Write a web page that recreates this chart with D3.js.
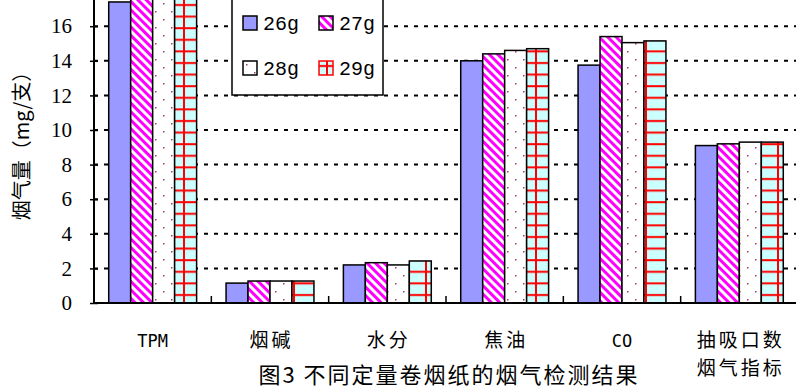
<!DOCTYPE html>
<html>
<head>
<meta charset="utf-8">
<script src="https://cdn.jsdelivr.net/npm/d3@7"></script>
<style>
  body { margin: 0; background: #fff; }
  svg { display: block; font-family: "Liberation Sans", Arial, sans-serif; }
  .cjk { font-family: "Noto Sans CJK SC", sans-serif; }
</style>
</head>
<body>
<svg id="chart" width="796" height="391"></svg>
<script>
// data (TPM bars run past the top of the image)
const categories = ['TPM', '烟碱', '水分', '焦油', 'CO', '抽吸口数 烟气指标'];
const seriesNames = ['26g', '27g', '28g', '29g'];
const s26 = [17.4, 1.15, 2.2, 14.0, 13.75, 9.1];
const s27 = [18.6, 1.27, 2.33, 14.4, 15.4, 9.2];
const s28 = [18.6, 1.27, 2.2, 14.6, 15.05, 9.3];
const s29 = [18.6, 1.27, 2.43, 14.7, 15.15, 9.3];
const yTicks = [0, 2, 4, 6, 8, 10, 12, 14, 16];
const title = '图3 不同定量卷烟纸的烟气检测结果';
const yTitle = '烟气量（mg/支）';

const series = [s26, s27, s28, s29];

const svg = d3.select('#chart');
const defs = svg.append('defs');

// fills
let p = defs.append('pattern').attr('id', 'p27')
    .attr('patternUnits', 'userSpaceOnUse').attr('width', 6).attr('height', 6)
    .attr('patternTransform', 'rotate(-45)');
p.append('rect').attr('width', 6).attr('height', 6).attr('fill', '#fff');
p.append('rect').attr('width', 3).attr('height', 6).attr('fill', '#ff00ff');

p = defs.append('pattern').attr('id', 'p28')
    .attr('patternUnits', 'userSpaceOnUse').attr('width', 16).attr('height', 16);
p.append('rect').attr('width', 16).attr('height', 16).attr('fill', '#fff');
p.append('rect').attr('x', 3).attr('y', 3).attr('width', 1.5).attr('height', 1.5).attr('fill', '#a0406a');
p.append('rect').attr('x', 11).attr('y', 11).attr('width', 1.5).attr('height', 1.5).attr('fill', '#a0406a');

p = defs.append('pattern').attr('id', 'p29')
    .attr('patternUnits', 'userSpaceOnUse').attr('width', 22).attr('height', 11.6)
    .attr('x', 173);
p.append('rect').attr('width', 22).attr('height', 11.6).attr('fill', '#ccffff');
p.append('rect').attr('x', 0).attr('y', 4).attr('width', 22).attr('height', 2).attr('fill', '#ff0000');
p.append('rect').attr('x', 10).attr('y', 0).attr('width', 2).attr('height', 11.6).attr('fill', '#ff0000');

const fills = ['#9999ff', 'url(#p27)', 'url(#p28)', 'url(#p29)'];

const left = 94, right = 798, base = 303;

const x = d3.scaleBand().domain(categories).range([left, right]);
const xs = d3.scaleBand().domain(seriesNames).range([0, x.bandwidth()])
    .paddingInner(0).paddingOuter(0.67);
const y = d3.scaleLinear().domain([0, 17.5]).range([base, base - 17.3 * 17.5]);

// grid
svg.append('g').selectAll('line')
    .data(yTicks.filter(d => d > 0))
    .enter().append('line')
    .attr('x1', left).attr('x2', right)
    .attr('y1', d => y(d)).attr('y2', d => y(d))
    .attr('stroke', '#000').attr('stroke-width', 2)
    .attr('stroke-dasharray', '4,6');

// bars
const groups = svg.append('g').selectAll('g')
    .data(seriesNames)
    .enter().append('g');
groups.selectAll('rect')
    .data((s, i) => series[i].map((v, j) => ({ s: s, i: i, cat: categories[j], v: v })))
    .enter().append('rect')
    .attr('x', d => x(d.cat) + xs(d.s))
    .attr('y', d => y(d.v))
    .attr('width', xs.bandwidth())
    .attr('height', d => y(0) - y(d.v))
    .attr('fill', d => fills[d.i])
    .attr('stroke', '#000').attr('stroke-width', 1.5);

// y axis
const yAxis = svg.append('g')
    .attr('transform', `translate(${left},0)`)
    .call(d3.axisLeft(y).tickValues(yTicks).tickSize(4).tickPadding(18));
yAxis.attr('font-family', null).attr('font-size', null);
yAxis.select('.domain').attr('stroke-width', 2).attr('d', `M0,${base}V0`);
yAxis.selectAll('.tick line').attr('x2', -4).attr('x1', 4).attr('stroke-width', 1.5);
yAxis.selectAll('.tick text')
    .style('font-family', '"Liberation Serif", serif').style('font-size', '21px')
    .attr('fill', '#000');

// x axis
svg.append('line')
    .attr('x1', left).attr('x2', right).attr('y1', base).attr('y2', base)
    .attr('stroke', '#000').attr('stroke-width', 2);
svg.append('g').selectAll('line')
    .data(categories.slice(1))
    .enter().append('line')
    .attr('x1', d => x(d)).attr('x2', d => x(d))
    .attr('y1', base).attr('y2', base - 7)
    .attr('stroke', '#000').attr('stroke-width', 1.5);

const latin = d => /^[A-Z]+$/.test(d);
const xl = svg.append('g').selectAll('text')
    .data(categories)
    .enter().append('text')
    .attr('class', d => latin(d) ? null : 'cjk')
    .attr('font-family', d => latin(d) ? '"DejaVu Sans Mono", monospace' : null)
    .attr('letter-spacing', d => latin(d) ? null : 3)
    .attr('x', d => x(d) + x.bandwidth() / 2 + (latin(d) ? 0 : 1.5))
    .attr('y', 347)
    .attr('text-anchor', 'middle')
    .attr('font-size', d => latin(d) ? 17 : 19);
xl.selectAll('tspan')
    .data(d => d.split(' '))
    .enter().append('tspan')
    .attr('x', function () { return this.parentNode.getAttribute('x'); })
    .attr('dy', (d, i) => i ? 28 : 0)
    .text(d => d);

// legend
const lg = svg.append('g').attr('transform', 'translate(232,-2)');
lg.append('rect').attr('width', 151).attr('height', 97)
    .attr('fill', '#fff').attr('stroke', '#000').attr('stroke-width', 1.5);
const li = lg.selectAll('g.item')
    .data(seriesNames)
    .enter().append('g').attr('class', 'item')
    .attr('transform', (d, i) => `translate(${11 + (i % 2) * 76},${18 + Math.floor(i / 2) * 45})`);
li.append('rect').attr('width', 14).attr('height', 14)
    .attr('fill', (d, i) => fills[i])
    .attr('stroke', (d, i) => i === 3 ? '#ff0000' : '#000').attr('stroke-width', 1.5);
li.append('text').attr('x', 20).attr('y', 14)
    .attr('font-size', 20).attr('font-family', '"Liberation Mono", monospace')
    .text(d => d);

// titles
svg.append('text').attr('class', 'cjk')
    .attr('transform', 'translate(29,141) rotate(-90)')
    .attr('text-anchor', 'middle').attr('font-size', 20)
    .text(yTitle);
svg.append('text').attr('class', 'cjk')
    .attr('x', 449).attr('y', 383)
    .attr('text-anchor', 'middle').attr('font-size', 22)
    .attr('letter-spacing', 2)
    .text(title);
</script>
</body>
</html>
